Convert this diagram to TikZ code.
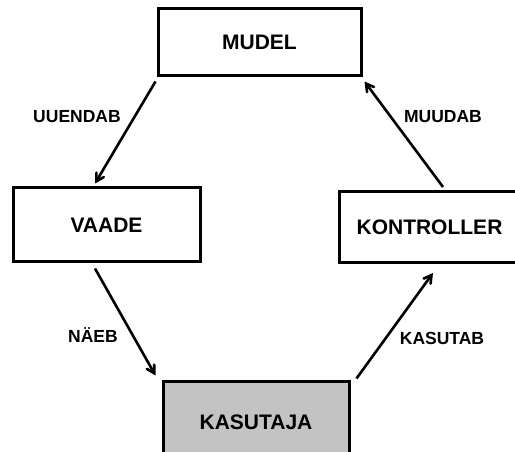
\documentclass[tikz,border=0pt]{standalone}
\usepackage{fontspec}
\setmainfont{Liberation Sans}
\usetikzlibrary{arrows}
\definecolor{userfill}{RGB}{195,195,195}

\tikzset{
  box/.style={draw=black, line width=3pt, fill=white, inner sep=0pt,
    font=\fontsize{21}{24}\selectfont\bfseries},
  lbl/.style={font=\fontsize{17.5}{20}\selectfont\bfseries},
  arr/.style={->, >=angle 60, line width=2.6pt}
}

\begin{document}
\begin{tikzpicture}[x=1pt, y=1pt]
  \useasboundingbox (0,0) rectangle (515,452);
  % boxes
  \node[box, minimum width=203pt, minimum height=67pt] (mudel) at (259.5,409.5) {MUDEL};
  \node[box, minimum width=187pt, minimum height=74pt] (vaade) at (106.5,227) {VAADE};
  \node[box, minimum width=181pt, minimum height=71pt] (kontroller) at (429.5,225) {KONTROLLER};
  \node[box, fill=userfill, minimum width=186pt, minimum height=80pt] (kasutaja) at (256,30) {KASUTAJA};
  % arrows
  \draw[arr] ([shift={(-1,-4)}]mudel.south west) -- ([shift={(-11.5,3)}]vaade.north);
  \draw[arr] ([shift={(-11.5,-5)}]vaade.south) -- ([shift={(-6,5)}]kasutaja.north west);
  \draw[arr] ([shift={(6,2)}]kasutaja.north east) -- ([shift={(3.5,-9)}]kontroller.south);
  \draw[arr] ([shift={(13.5,3)}]kontroller.north) -- ([shift={(2,-4)}]mudel.south east);
  % labels
  \node[lbl] (uuendab) at (77,335) {UUENDAB};
  \node[lbl] (muudab) at (443,335) {MUUDAB};
  \node[lbl] (naeb) at (93,117) {NÄEB};
  \node[lbl] (kasutab) at (442,114) {KASUTAB};
\end{tikzpicture}
\end{document}
